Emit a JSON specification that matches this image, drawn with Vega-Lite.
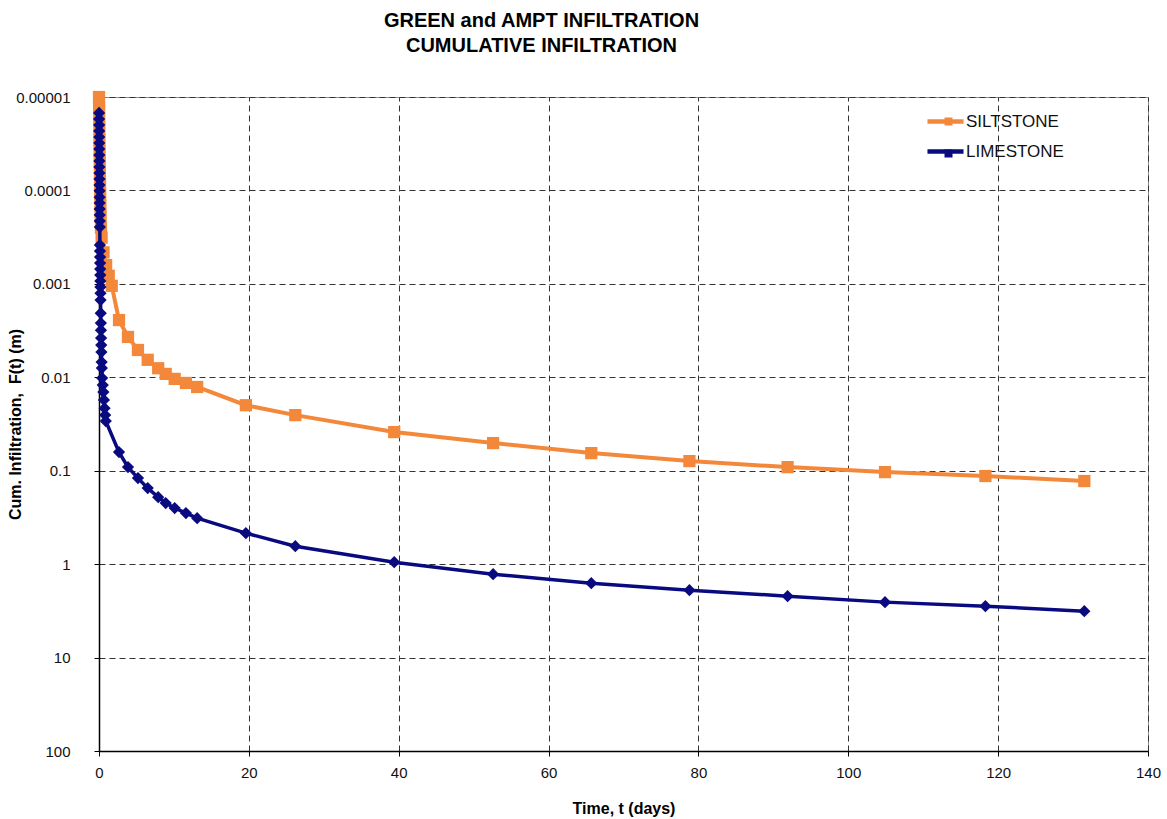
{
  "$schema": "https://vega.github.io/schema/vega-lite/v6.json",
  "width": 1049,
  "height": 654,
  "autosize": "none",
  "padding": {"left": 99, "top": 97, "right": 19, "bottom": 68},
  "background": "white",
  "title": {
    "text": ["GREEN and AMPT INFILTRATION", "CUMULATIVE INFILTRATION"],
    "font": "Liberation Sans",
    "fontSize": 20,
    "fontWeight": "bold",
    "color": "#000000",
    "anchor": "middle",
    "dx": -82,
    "offset": 33,
    "lineHeight": 25
  },
  "config": {
    "view": {"stroke": "#8c8c8c", "strokeWidth": 1},
    "axis": {
      "labelFont": "Liberation Sans",
      "labelFontSize": 15,
      "labelColor": "#111111",
      "titleFont": "Liberation Sans",
      "titleFontSize": 16,
      "titleFontWeight": "bold",
      "titleColor": "#000000",
      "domainColor": "#000000",
      "domainWidth": 1.5,
      "tickColor": "#000000",
      "tickSize": 5,
      "gridColor": "#333333",
      "gridDash": [6, 4],
      "gridWidth": 1,
      "gridOpacity": 1
    },
    "legend": {
      "labelFont": "Liberation Sans",
      "labelFontSize": 17,
      "labelColor": "#111111"
    }
  },
  "data": {
    "values": [
      {"series": "SILTSTONE", "t": 0, "F": 0.00001},
      {"series": "SILTSTONE", "t": 0.02, "F": 0.000013},
      {"series": "SILTSTONE", "t": 0.03, "F": 0.000017},
      {"series": "SILTSTONE", "t": 0.05, "F": 0.000022},
      {"series": "SILTSTONE", "t": 0.06, "F": 0.000029},
      {"series": "SILTSTONE", "t": 0.08, "F": 0.000038},
      {"series": "SILTSTONE", "t": 0.1, "F": 0.00005},
      {"series": "SILTSTONE", "t": 0.12, "F": 0.000065},
      {"series": "SILTSTONE", "t": 0.14, "F": 0.000085},
      {"series": "SILTSTONE", "t": 0.16, "F": 0.00011},
      {"series": "SILTSTONE", "t": 0.19, "F": 0.000145},
      {"series": "SILTSTONE", "t": 0.22, "F": 0.00019},
      {"series": "SILTSTONE", "t": 0.26, "F": 0.00025},
      {"series": "SILTSTONE", "t": 0.35, "F": 0.00032},
      {"series": "SILTSTONE", "t": 0.6, "F": 0.00046},
      {"series": "SILTSTONE", "t": 0.95, "F": 0.00063},
      {"series": "SILTSTONE", "t": 1.3, "F": 0.00082},
      {"series": "SILTSTONE", "t": 1.7, "F": 0.00105},
      {"series": "SILTSTONE", "t": 2.67, "F": 0.00244},
      {"series": "SILTSTONE", "t": 3.87, "F": 0.0037},
      {"series": "SILTSTONE", "t": 5.2, "F": 0.0051},
      {"series": "SILTSTONE", "t": 6.5, "F": 0.0065},
      {"series": "SILTSTONE", "t": 7.9, "F": 0.008},
      {"series": "SILTSTONE", "t": 8.9, "F": 0.0092},
      {"series": "SILTSTONE", "t": 10.1, "F": 0.0104},
      {"series": "SILTSTONE", "t": 11.6, "F": 0.0115},
      {"series": "SILTSTONE", "t": 13.1, "F": 0.0127},
      {"series": "SILTSTONE", "t": 19.6, "F": 0.0199},
      {"series": "SILTSTONE", "t": 26.2, "F": 0.0254},
      {"series": "SILTSTONE", "t": 39.4, "F": 0.0386},
      {"series": "SILTSTONE", "t": 52.6, "F": 0.0506},
      {"series": "SILTSTONE", "t": 65.7, "F": 0.0648},
      {"series": "SILTSTONE", "t": 78.8, "F": 0.0789},
      {"series": "SILTSTONE", "t": 91.9, "F": 0.0915},
      {"series": "SILTSTONE", "t": 104.9, "F": 0.1035},
      {"series": "SILTSTONE", "t": 118.3, "F": 0.114},
      {"series": "SILTSTONE", "t": 131.5, "F": 0.129},
      {"series": "LIMESTONE", "t": 0.01, "F": 0.0000148},
      {"series": "LIMESTONE", "t": 0.015, "F": 0.0000172},
      {"series": "LIMESTONE", "t": 0.02, "F": 0.00002},
      {"series": "LIMESTONE", "t": 0.025, "F": 0.0000231},
      {"series": "LIMESTONE", "t": 0.03, "F": 0.0000268},
      {"series": "LIMESTONE", "t": 0.035, "F": 0.0000311},
      {"series": "LIMESTONE", "t": 0.04, "F": 0.000036},
      {"series": "LIMESTONE", "t": 0.045, "F": 0.0000418},
      {"series": "LIMESTONE", "t": 0.05, "F": 0.0000484},
      {"series": "LIMESTONE", "t": 0.055, "F": 0.0000561},
      {"series": "LIMESTONE", "t": 0.06, "F": 0.0000651},
      {"series": "LIMESTONE", "t": 0.065, "F": 0.0000755},
      {"series": "LIMESTONE", "t": 0.07, "F": 0.0000875},
      {"series": "LIMESTONE", "t": 0.075, "F": 0.000101},
      {"series": "LIMESTONE", "t": 0.08, "F": 0.000118},
      {"series": "LIMESTONE", "t": 0.085, "F": 0.000136},
      {"series": "LIMESTONE", "t": 0.09, "F": 0.000158},
      {"series": "LIMESTONE", "t": 0.095, "F": 0.000183},
      {"series": "LIMESTONE", "t": 0.1, "F": 0.000213},
      {"series": "LIMESTONE", "t": 0.11, "F": 0.000247},
      {"series": "LIMESTONE", "t": 0.12, "F": 0.000384},
      {"series": "LIMESTONE", "t": 0.13, "F": 0.000446},
      {"series": "LIMESTONE", "t": 0.14, "F": 0.000516},
      {"series": "LIMESTONE", "t": 0.15, "F": 0.000599},
      {"series": "LIMESTONE", "t": 0.16, "F": 0.000695},
      {"series": "LIMESTONE", "t": 0.17, "F": 0.000805},
      {"series": "LIMESTONE", "t": 0.18, "F": 0.000933},
      {"series": "LIMESTONE", "t": 0.19, "F": 0.00108},
      {"series": "LIMESTONE", "t": 0.2, "F": 0.00126},
      {"series": "LIMESTONE", "t": 0.21, "F": 0.00149},
      {"series": "LIMESTONE", "t": 0.23, "F": 0.00206},
      {"series": "LIMESTONE", "t": 0.25, "F": 0.00263},
      {"series": "LIMESTONE", "t": 0.26, "F": 0.00313},
      {"series": "LIMESTONE", "t": 0.28, "F": 0.0038},
      {"series": "LIMESTONE", "t": 0.3, "F": 0.00452},
      {"series": "LIMESTONE", "t": 0.32, "F": 0.00537},
      {"series": "LIMESTONE", "t": 0.35, "F": 0.00687},
      {"series": "LIMESTONE", "t": 0.38, "F": 0.00796},
      {"series": "LIMESTONE", "t": 0.42, "F": 0.0102},
      {"series": "LIMESTONE", "t": 0.5, "F": 0.0121},
      {"series": "LIMESTONE", "t": 0.58, "F": 0.0144},
      {"series": "LIMESTONE", "t": 0.66, "F": 0.0175},
      {"series": "LIMESTONE", "t": 0.74, "F": 0.0214},
      {"series": "LIMESTONE", "t": 0.82, "F": 0.0254},
      {"series": "LIMESTONE", "t": 0.9, "F": 0.0294},
      {"series": "LIMESTONE", "t": 2.67, "F": 0.0632},
      {"series": "LIMESTONE", "t": 3.87, "F": 0.0915},
      {"series": "LIMESTONE", "t": 5.2, "F": 0.12},
      {"series": "LIMESTONE", "t": 6.5, "F": 0.1535},
      {"series": "LIMESTONE", "t": 7.9, "F": 0.192},
      {"series": "LIMESTONE", "t": 8.9, "F": 0.222},
      {"series": "LIMESTONE", "t": 10.1, "F": 0.251},
      {"series": "LIMESTONE", "t": 11.6, "F": 0.284},
      {"series": "LIMESTONE", "t": 13.1, "F": 0.322},
      {"series": "LIMESTONE", "t": 19.6, "F": 0.466},
      {"series": "LIMESTONE", "t": 26.2, "F": 0.642},
      {"series": "LIMESTONE", "t": 39.4, "F": 0.952},
      {"series": "LIMESTONE", "t": 52.6, "F": 1.28},
      {"series": "LIMESTONE", "t": 65.7, "F": 1.6},
      {"series": "LIMESTONE", "t": 78.8, "F": 1.9},
      {"series": "LIMESTONE", "t": 91.9, "F": 2.2},
      {"series": "LIMESTONE", "t": 104.9, "F": 2.55},
      {"series": "LIMESTONE", "t": 118.3, "F": 2.82},
      {"series": "LIMESTONE", "t": 131.5, "F": 3.19}
    ]
  },
  "encoding": {
    "x": {
      "field": "t",
      "type": "quantitative",
      "scale": {"domain": [0, 140], "nice": false, "zero": false},
      "axis": {
        "title": "Time, t (days)",
        "values": [0, 20, 40, 60, 80, 100, 120, 140],
        "labelPadding": 9,
        "titleY": 49,
        "labelFlush": false
      }
    },
    "y": {
      "field": "F",
      "type": "quantitative",
      "scale": {"type": "log", "domain": [0.00001, 100], "reverse": true, "nice": false},
      "axis": {
        "title": "Cum. Infiltration,\u00a0 F(t) (m)",
        "values": [0.00001, 0.0001, 0.001, 0.01, 0.1, 1, 10, 100],
        "format": "~g",
        "labelPadding": 24,
        "titleX": -76,
        "labelFlush": false
      }
    }
  },
  "layer": [
    {
      "transform": [{"filter": "datum.series === 'SILTSTONE'"}],
      "mark": {"type": "line", "strokeWidth": 4},
      "encoding": {
        "color": {
          "field": "series",
          "type": "nominal",
          "scale": {"domain": ["SILTSTONE", "LIMESTONE"], "range": ["#F4883A", "#0A0A80"]},
          "legend": {
            "title": null,
            "orient": "none",
            "legendX": 826,
            "legendY": 4,
            "symbolType": "stroke",
            "symbolSize": 1300,
            "symbolStrokeWidth": 4.5,
            "rowPadding": -2,
            "labelOffset": 0
          }
        }
      }
    },
    {
      "transform": [{"filter": "datum.series === 'SILTSTONE'"}],
      "mark": {"type": "point", "filled": true, "opacity": 1, "size": 150},
      "encoding": {
        "fill": {
          "field": "series",
          "type": "nominal",
          "sort": ["SILTSTONE", "LIMESTONE"],
          "scale": {"range": ["#F4883A", "#0A0A80"]},
          "legend": {
            "title": null,
            "orient": "none",
            "legendX": 841,
            "legendY": 16,
            "labelExpr": "''",
            "symbolType": "square",
            "symbolSize": 64,
            "symbolStrokeWidth": 0,
            "rowPadding": 14,
            "encode": {
              "symbols": {
                "shape": {"signal": "datum.value === 'SILTSTONE' ? 'square' : 'diamond'"}
              }
            }
          }
        },
        "shape": {
          "field": "series",
          "type": "nominal",
          "sort": ["SILTSTONE", "LIMESTONE"],
          "scale": {"range": ["square", "diamond"]},
          "legend": null
        }
      }
    },
    {
      "transform": [{"filter": "datum.series === 'LIMESTONE'"}],
      "mark": {"type": "line", "strokeWidth": 3.5},
      "encoding": {
        "color": {"field": "series", "type": "nominal"}
      }
    },
    {
      "transform": [{"filter": "datum.series === 'LIMESTONE'"}],
      "mark": {"type": "point", "filled": true, "opacity": 1, "size": 150},
      "encoding": {
        "fill": {"field": "series", "type": "nominal", "sort": ["SILTSTONE", "LIMESTONE"]},
        "shape": {"field": "series", "type": "nominal", "sort": ["SILTSTONE", "LIMESTONE"]}
      }
    }
  ]
}
